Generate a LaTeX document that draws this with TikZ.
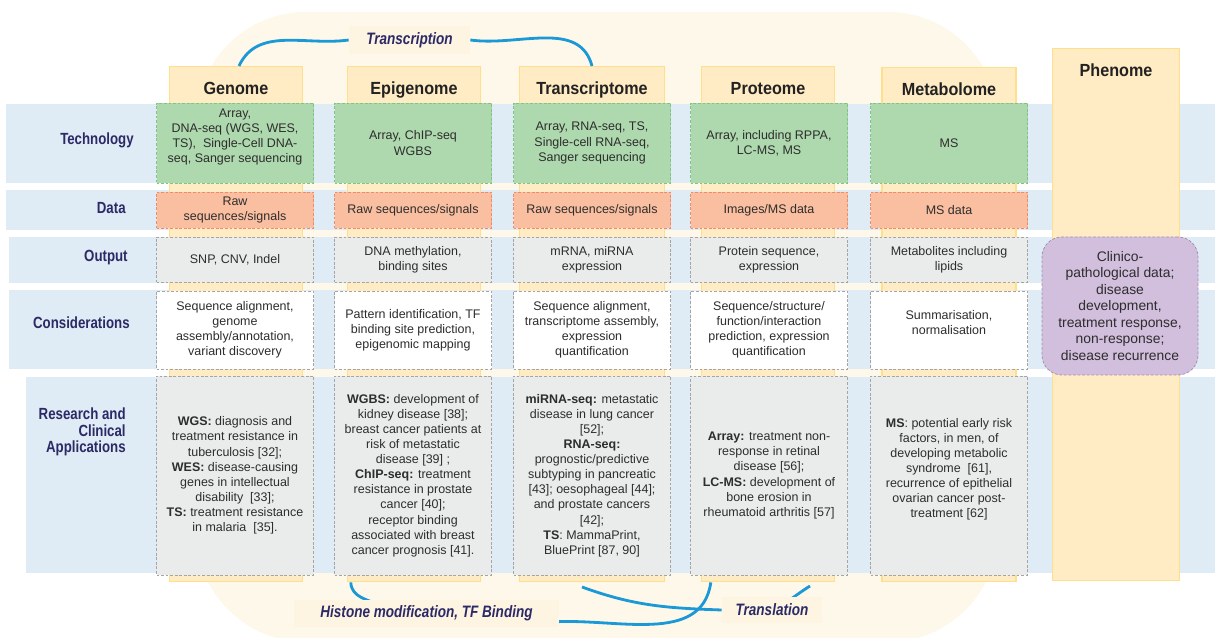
\documentclass[tikz,border=0pt]{standalone}
\usepackage{fontspec}
\setmainfont{Liberation Sans}
\newfontfamily\narrowfont[FakeStretch=0.82]{Liberation Sans}
\newfontfamily\headfont[FakeStretch=0.92]{Liberation Sans}
\usetikzlibrary{positioning}

\pgfdeclarelayer{front}
\pgfsetlayers{main,front}

\definecolor{blobcream}{RGB}{254,248,234}
\definecolor{bandblue}{RGB}{223,235,245}
\definecolor{colfill}{RGB}{255,236,196}
\definecolor{colline}{RGB}{255,222,140}
\definecolor{techfill}{RGB}{174,216,173}
\definecolor{techline}{RGB}{130,196,130}
\definecolor{datafill}{RGB}{250,191,160}
\definecolor{dataline}{RGB}{238,140,105}
\definecolor{cellgray}{RGB}{234,236,236}
\definecolor{cellline}{RGB}{165,165,165}
\definecolor{phenofill}{RGB}{210,190,221}
\definecolor{phenoline}{RGB}{165,145,175}
\definecolor{flowblue}{RGB}{27,152,214}
\definecolor{labnavy}{RGB}{43,42,102}
\definecolor{labfill}{RGB}{253,244,226}
\definecolor{celltext}{RGB}{45,45,45}
\definecolor{headtext}{RGB}{34,34,34}

\newlength\pxl
\setlength\pxl{0.02cm}

\begin{document}
\begin{tikzpicture}[x=0.02cm, y=-0.02cm,
    band/.style={fill=bandblue},
    colbar/.style={draw=colline, fill=colfill, line width=0.8pt, anchor=north, inner sep=0pt},
    heading/.style={font=\headfont\bfseries\fontsize{10}{11}\selectfont, text=headtext, anchor=base, inner sep=0pt},
    cell/.style={draw, dash pattern=on 1.6pt off 1pt, line width=0.45pt, align=center, inner sep=1pt,
      minimum width=157\pxl, text=celltext, font=\fontsize{7.1}{8.6}\selectfont},
    techcell/.style={cell, fill=techfill, draw=techline, minimum height=80\pxl},
    datacell/.style={cell, fill=datafill, draw=dataline, minimum height=36\pxl},
    outcell/.style={cell, fill=cellgray, draw=cellline, minimum height=45\pxl},
    conscell/.style={cell, fill=white, draw=cellline, minimum height=78\pxl},
    rescell/.style={cell, fill=cellgray, draw=cellline, minimum height=199\pxl},
    rowlabel/.style={font=\narrowfont\bfseries\fontsize{9.2}{9.4}\selectfont, text=labnavy, anchor=east, align=right, inner sep=0pt},
    flowlabel/.style={font=\narrowfont\bfseries\itshape\fontsize{9.4}{11}\selectfont, text=labnavy, fill=labfill, inner sep=0pt},
    flow/.style={draw=flowblue, line width=1.6pt}
  ]

  \useasboundingbox (0,0) rectangle (1215,638);

  % cream background
  \fill[blobcream, rounded corners=110\pxl] (196,12) rectangle (998,642);

  % row bands
  \foreach \x/\ya/\yb in {6/104/183, 6/190/230, 9/237/283, 9/290/369, 26/377/573}{
    \fill[band] (\x,\ya) rectangle (1215,\yb);
  }

  % omics columns
  \foreach \name/\cx/\bw/\top/\bh/\head in {genome/236/133/66/515/Genome, epi/414/133/66/515/Epigenome,
      trans/592/145/66/515/Transcriptome, prot/768/133/66/515/Proteome,
      metab/949/134/67/514/Metabolome, pheno/1116/127/48/532/Phenome}{
    \node[colbar, minimum width=\bw\pxl, minimum height=\bh\pxl] (\name bar) at (\cx,\top) {};
    \node[heading] (\name head) at ([yshift=-29\pxl]\name bar.north) {\head};
  }

  % row labels
  \node[rowlabel] (techlab) at (134,140) {Technology};
  \node[rowlabel] (datalab) at (126,208) {Data};
  \node[rowlabel] (outlab) at (128,258) {Output};
  \node[rowlabel] (conslab) at (130,323) {Considerations};
  \node[rowlabel] (reslab) at (126,432) {Research and\\Clinical\\Applications};

  % technology
  \node[techcell] (genometech) at (235,143) {Array,\\DNA-seq (WGS, WES,\\TS),\ \ Single-Cell DNA-\\seq, Sanger sequencing\\\mbox{}};
  \node[techcell] (epitech) at (413,143) {Array, ChIP-seq\\WGBS};
  \node[techcell] (transtech) at (592,143) {Array, RNA-seq, TS,\\Single-cell RNA-seq,\\Sanger sequencing};
  \node[techcell] (prottech) at (769,143) {Array, including RPPA,\\LC-MS, MS};
  \node[techcell] (metabtech) at (949,143) {MS};

  % data
  \node[datacell] (genomedata) at (235,210) {Raw\\sequences/signals};
  \node[datacell] (epidata) at (413,210) {Raw sequences/signals};
  \node[datacell] (transdata) at (592,210) {Raw sequences/signals};
  \node[datacell] (protdata) at (769,210) {Images/MS data};
  \node[datacell] (metabdata) at (949,210) {MS data};

  % output
  \node[outcell] (genomeout) at (235,259.5) {SNP, CNV, Indel};
  \node[outcell] (epiout) at (413,259.5) {DNA methylation,\\binding sites};
  \node[outcell] (transout) at (592,259.5) {mRNA, miRNA\\expression};
  \node[outcell] (protout) at (769,259.5) {Protein sequence,\\expression};
  \node[outcell] (metabout) at (949,259.5) {Metabolites including\\lipids};

  % considerations
  \node[conscell] (genomecons) at (235,330) {Sequence alignment,\\genome\\assembly/annotation,\\variant discovery};
  \node[conscell] (epicons) at (413,330) {Pattern identification, TF\\binding site prediction,\\epigenomic mapping};
  \node[conscell] (transcons) at (592,330) {Sequence alignment,\\transcriptome assembly,\\expression\\quantification};
  \node[conscell] (protcons) at (769,330) {Sequence/structure/\\function/interaction\\prediction, expression\\quantification};
  \node[conscell] (metabcons) at (949,330) {Summarisation,\\normalisation\\\mbox{}};

  % research and clinical applications
  \node[rescell] (genomeres) at (235,475.5) {\textbf{WGS:} diagnosis and\\treatment resistance in\\tuberculosis [32];\\\textbf{WES:} disease-causing\\genes in intellectual\\disability\ \ [33];\\\textbf{TS:} treatment resistance\\in malaria\ \ [35].};
  \node[rescell] (epires) at (413,475.5) {\textbf{WGBS:} development of\\kidney disease [38];\\breast cancer patients at\\risk of metastatic\\disease [39] ;\\\textbf{ChIP-seq:} treatment\\resistance in prostate\\cancer [40];\\receptor binding\\associated with breast\\cancer prognosis [41].};
  \node[rescell] (transres) at (592,475.5) {\textbf{miRNA-seq:} metastatic\\disease in lung cancer\\{}[52];\\\textbf{RNA-seq:}\\prognostic/predictive\\subtyping in pancreatic\\{}[43]; oesophageal [44];\\and prostate cancers\\{}[42];\\\textbf{TS}: MammaPrint,\\BluePrint [87, 90]};
  \node[rescell] (protres) at (769,475.5) {\textbf{Array:} treatment non-\\response in retinal\\disease [56];\\\textbf{LC-MS:} development of\\bone erosion in\\rheumatoid arthritis [57]};
  \node[rescell] (metabres) at (949,475.5) {\textbf{MS}: potential early risk\\factors, in men, of\\developing metabolic\\syndrome\ \ [61],\\recurrence of epithelial\\ovarian cancer post-\\treatment [62]\\\mbox{}};

  % phenome
  \node[cell, fill=phenofill, draw=phenoline, rounded corners=20\pxl, minimum width=156\pxl, minimum height=138\pxl,
    font=\fontsize{7.9}{9.4}\selectfont] (phenodata) at (1120,306)
    {Clinico-\\pathological data;\\disease\\development,\\treatment response,\\non-response;\\disease recurrence};

  % process labels
  \begin{pgfonlayer}{front}
    \node[flowlabel, minimum width=121\pxl, minimum height=28\pxl] (transcription) at (409.5,40) {Transcription};
    \node[flowlabel, minimum width=265\pxl, minimum height=27\pxl] (histone) at (426.5,613.5) {Histone modification, TF Binding};
    \node[flowlabel, minimum width=100\pxl, minimum height=26\pxl] (translation) at (772,610) {Translation};
  \end{pgfonlayer}

  \coordinate (histin) at (382,606);
  \coordinate (histout) at (552,622);
  \coordinate (transstart) at (582,587);
  \coordinate (transup) at (810,586);

  \draw[flow] ([xshift=3\pxl]genomebar.north) to[out=65,in=188] (transcription.west);
  \draw[flow] (transcription.east) to[out=-8,in=105] (transbar.north);
  \draw[flow] ([xshift=4\pxl]epibar.south west) to[out=-88,in=155] (histin);
  \draw[flow] (histout) to[out=4,in=-98] ([xshift=10\pxl]protbar.south west);
  \draw[flow] (transstart) to[out=-20,in=178] (translation.west);
  \draw[flow] (translation.center) to[out=25,in=-148] (transup);

\end{tikzpicture}
\end{document}
